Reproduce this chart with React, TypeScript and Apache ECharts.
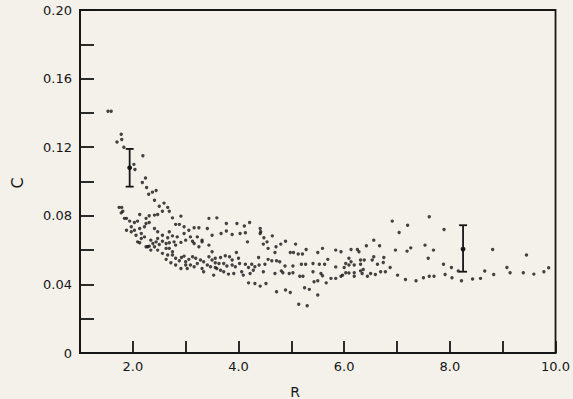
import React, { useEffect, useRef } from "react";
import * as echarts from "echarts";

// Axis settings (data units)
const xMin = 1;
const xMax = 10;
const xStep = 1;
const yMin = 0;
const yMax = 0.2;
const yStep = 0.02;

// Error bars: [R, centre C, low C, high C]
const errorBars: number[][] = [
  [1.94, 0.108, 0.097, 0.119],
  [8.25, 0.0606, 0.0474, 0.0745],
];

// Scatter points [R, C], grouped by region of the plot
const pointsSmallR: number[][] = [
  [1.53, 0.141], [1.59, 0.141],
  [1.70, 0.123], [1.78, 0.1275], [1.79, 0.1245], [1.83, 0.120],
  [2.19, 0.115], [2.02, 0.110], [2.04, 0.107],
  [2.18, 0.0994], [2.24, 0.102], [2.26, 0.0965],
  [2.37, 0.0938], [2.44, 0.0948], [2.30, 0.0926], [2.41, 0.0891],
  [2.50, 0.0856], [2.59, 0.0874], [2.66, 0.0849], [2.56, 0.0827], [2.69, 0.0827],
  [1.74, 0.0849], [1.79, 0.0849], [1.78, 0.0817], [1.81, 0.0827], [1.84, 0.0785],
  [2.91, 0.0798], [2.75, 0.0788],
  [2.47, 0.0808], [2.41, 0.0804], [2.31, 0.0800], [2.25, 0.0785], [2.13, 0.0808],
  [1.88, 0.0785], [1.94, 0.0769], [2.03, 0.0761], [2.09, 0.0769],
  [2.25, 0.0755], [2.31, 0.0761], [2.81, 0.0750], [2.88, 0.0750],
  [2.97, 0.0736], [3.06, 0.0716], [3.16, 0.0730], [3.25, 0.0730],
  [3.44, 0.0785], [3.59, 0.0788], [3.41, 0.0726], [3.50, 0.0687],
  [1.97, 0.0736], [2.03, 0.0716], [2.13, 0.0726], [2.22, 0.0736], [2.16, 0.0697], [2.06, 0.0687], [1.97, 0.0707],
  [2.41, 0.0726], [2.47, 0.0707], [2.56, 0.0687], [2.69, 0.0707], [2.75, 0.0683], [2.66, 0.0672], [2.47, 0.0668], [2.34, 0.0658], [2.22, 0.0677],
  [2.84, 0.0677], [2.97, 0.0697], [3.09, 0.0677], [3.0, 0.0658], [3.13, 0.0652], [3.22, 0.0677], [3.31, 0.0658], [3.16, 0.0639], [2.91, 0.0645],
  [1.88, 0.0716], [2.16, 0.0668], [2.09, 0.0648], [2.28, 0.0619],
];

const pointsLowerLeft: number[][] = [
  [2.13, 0.0643], [2.25, 0.0619], [2.31, 0.0623], [2.38, 0.0639], [2.44, 0.0648], [2.50, 0.0633], [2.56, 0.0652], [2.63, 0.0639], [2.69, 0.0643], [2.78, 0.0648], [2.81, 0.0629],
  [2.41, 0.0619], [2.34, 0.0600], [2.47, 0.0600], [2.56, 0.0581], [2.63, 0.0610], [2.69, 0.0610], [2.75, 0.0590], [2.66, 0.0571], [2.75, 0.0571], [2.81, 0.0552], [2.63, 0.0546], [2.72, 0.0526], [2.81, 0.0513], [2.91, 0.0493], [2.88, 0.0538], [2.92, 0.0557], [2.97, 0.0565], [3.0, 0.0532], [3.06, 0.0546], [3.13, 0.0561], [3.19, 0.0552], [3.09, 0.0513], [3.0, 0.0513], [3.03, 0.0493], [3.16, 0.0503], [3.22, 0.0522], [3.28, 0.0542], [3.34, 0.0532], [3.41, 0.0513], [3.31, 0.0493], [3.34, 0.0474], [3.44, 0.0561], [3.50, 0.0542], [3.56, 0.0526], [3.47, 0.0503], [3.59, 0.0493], [3.53, 0.0454], [3.25, 0.0619], [3.31, 0.0648], [3.44, 0.0629], [3.50, 0.0590],
];

const pointsMiddleUpper: number[][] = [
  [3.77, 0.0755], [3.97, 0.0755], [4.11, 0.0741], [4.21, 0.0761],
  [3.67, 0.0697], [3.77, 0.0711], [3.88, 0.0691], [4.03, 0.0697], [4.13, 0.0701],
  [4.41, 0.0726], [4.42, 0.0707], [4.41, 0.0697],
  [4.48, 0.0672], [4.64, 0.0683],
];

const pointsMiddle: number[][] = [
  [4.17, 0.0648], [4.47, 0.0635], [4.54, 0.0648], [4.56, 0.0610], [4.71, 0.0619], [4.80, 0.0635], [4.89, 0.0652], [5.08, 0.0635],
  [4.98, 0.0586], [5.04, 0.0586], [5.13, 0.0577], [5.21, 0.0577], [5.28, 0.0604], [5.50, 0.0586], [5.59, 0.0610], [4.69, 0.0586], [4.38, 0.0557],
  [3.96, 0.0586], [3.88, 0.0542], [4.0, 0.0552], [3.56, 0.0552], [3.66, 0.0557], [3.75, 0.0567], [3.83, 0.0561],
  [3.63, 0.0522], [3.72, 0.0522], [3.78, 0.0507], [3.88, 0.0513], [3.94, 0.0503], [4.02, 0.0522], [4.13, 0.0518], [4.19, 0.0499], [4.25, 0.0518], [4.31, 0.0503], [4.39, 0.0513], [4.50, 0.0518],
  [4.56, 0.0546], [4.63, 0.0538], [4.72, 0.0538], [4.78, 0.0532], [4.88, 0.0507], [5.03, 0.0507], [5.19, 0.0518], [5.27, 0.0518], [5.41, 0.0522], [5.53, 0.0518], [5.63, 0.0518],
  [3.56, 0.0499], [3.66, 0.0483], [3.72, 0.0474], [3.81, 0.0460], [3.91, 0.0464], [4.06, 0.0474], [4.09, 0.0454], [4.22, 0.0464], [4.28, 0.0483], [4.47, 0.0474],
  [4.69, 0.0464], [4.81, 0.0479], [4.84, 0.0468], [4.96, 0.0464], [5.03, 0.0468], [5.16, 0.0448], [5.22, 0.0448], [5.41, 0.0474], [5.56, 0.0464], [5.59, 0.0450],
  [5.43, 0.0415], [5.50, 0.0421], [5.66, 0.0409], [4.19, 0.0409], [4.31, 0.0405], [4.41, 0.0390], [4.52, 0.0405],
  [4.72, 0.0357], [4.89, 0.0367], [4.98, 0.0353], [5.25, 0.0380], [5.34, 0.0371], [5.50, 0.0338],
  [5.14, 0.0284], [5.30, 0.0276],
];

const pointsLargeR: number[][] = [
  [6.91, 0.0769], [7.20, 0.0745], [7.61, 0.0794], [7.04, 0.0703], [7.89, 0.0720], [8.81, 0.0604], [9.45, 0.0571],
  [6.97, 0.0600], [7.19, 0.0594], [7.26, 0.0613],
  [7.53, 0.0629], [7.69, 0.0600], [7.59, 0.0552],
  [7.88, 0.0517], [8.03, 0.0499], [8.16, 0.0478],
  [7.01, 0.0454], [7.16, 0.0429], [7.36, 0.0421], [7.50, 0.0439], [7.61, 0.0448], [7.70, 0.0448],
  [7.91, 0.0458], [8.04, 0.0439], [8.22, 0.0421], [8.43, 0.0431], [8.58, 0.0435], [8.66, 0.0478], [8.83, 0.0458], [9.08, 0.0499], [9.14, 0.0468], [9.39, 0.0468], [9.59, 0.0460], [9.78, 0.0474], [9.87, 0.0497],
  [5.84, 0.0600], [5.94, 0.0590],
  [6.13, 0.0604], [6.25, 0.0604], [6.42, 0.0625], [6.56, 0.0658], [6.67, 0.0625], [6.28, 0.0590], [6.09, 0.0552], [6.31, 0.0542], [6.53, 0.0542], [6.75, 0.0557],
  [5.69, 0.0546], [6.03, 0.0522], [6.19, 0.0513], [6.38, 0.0542], [6.63, 0.0518], [6.87, 0.0499],
  [5.84, 0.0502], [6.09, 0.0467], [6.31, 0.0479], [6.5, 0.0464], [6.69, 0.0474], [6.78, 0.0474],
  [5.75, 0.0435], [5.97, 0.0454], [6.19, 0.0448], [6.44, 0.0448],
  [6.13, 0.0532], [6.56, 0.0561], [6.74, 0.0528], [6.0, 0.0499], [6.09, 0.0513], [6.31, 0.0517], [6.36, 0.0487], [6.59, 0.0458],
  [5.84, 0.0435], [5.94, 0.0448], [6.03, 0.0468], [6.19, 0.0468], [6.34, 0.0464],
];

const allPoints = [
  ...pointsSmallR,
  ...pointsLowerLeft,
  ...pointsMiddleUpper,
  ...pointsMiddle,
  ...pointsLargeR,
];

const INK = "#161616";
const FONT = "DejaVu Sans";

export default function App() {
  const ref = useRef<HTMLDivElement>(null);

  useEffect(() => {
    if (!ref.current) return;
    const chart = echarts.init(ref.current, undefined, { renderer: "svg" });
    chart.setOption({
      animation: false,
      backgroundColor: "#f3f1ea",
      grid: {
        left: 80,
        right: 14,
        top: 10,
        bottom: 46,
        show: true,
        borderColor: INK,
        borderWidth: 1.8,
        backgroundColor: "transparent",
      },
      xAxis: {
        type: "value",
        min: xMin,
        max: xMax,
        interval: xStep,
        axisLine: { show: true, lineStyle: { color: INK, width: 1.8 } },
        axisTick: { show: true, inside: true, length: 12, lineStyle: { color: INK, width: 1.8 } },
        splitLine: { show: false },
        axisLabel: {
          color: INK,
          fontFamily: FONT,
          fontSize: 13,
          margin: 7,
          formatter: (v: number) => (Math.round(v) % 2 === 0 ? v.toFixed(1) : ""),
        },
      },
      yAxis: {
        type: "value",
        min: yMin,
        max: yMax,
        interval: yStep,
        axisLine: { show: true, lineStyle: { color: INK, width: 1.8 } },
        axisTick: { show: true, inside: true, length: 14, lineStyle: { color: INK, width: 1.8 } },
        splitLine: { show: false },
        axisLabel: {
          color: INK,
          fontFamily: FONT,
          fontSize: 13,
          margin: 8,
          formatter: (v: number) => {
            const k = Math.round(v * 100);
            if (k % 4 !== 0) return "";
            return k === 0 ? "0" : v.toFixed(2);
          },
        },
      },
      graphic: [
        {
          type: "text",
          x: 295,
          y: 392,
          style: {
            text: "R",
            fontFamily: FONT,
            fontSize: 14,
            fill: INK,
            align: "center",
            verticalAlign: "middle",
          },
        },
        {
          type: "text",
          x: 17,
          y: 183,
          rotation: Math.PI / 2,
          style: {
            text: "C",
            fontFamily: FONT,
            fontSize: 16,
            fill: INK,
            align: "center",
            verticalAlign: "middle",
          },
        },
      ],
      series: [
        {
          type: "scatter",
          data: allPoints,
          symbol: "circle",
          symbolSize: 3.4,
          itemStyle: { color: INK },
        },
        {
          type: "custom",
          data: errorBars,
          encode: { x: 0, y: 1 },
          renderItem: (_params: any, api: any) => {
            const x = api.value(0);
            const mid = api.coord([x, api.value(1)]);
            const lo = api.coord([x, api.value(2)]);
            const hi = api.coord([x, api.value(3)]);
            const hw = 4;
            const ls = { stroke: INK, lineWidth: 1.8 };
            return {
              type: "group",
              children: [
                { type: "line", shape: { x1: lo[0], y1: lo[1], x2: hi[0], y2: hi[1] }, style: ls },
                { type: "line", shape: { x1: lo[0] - hw, y1: lo[1], x2: lo[0] + hw, y2: lo[1] }, style: ls },
                { type: "line", shape: { x1: hi[0] - hw, y1: hi[1], x2: hi[0] + hw, y2: hi[1] }, style: ls },
                { type: "circle", shape: { cx: mid[0], cy: mid[1], r: 2.4 }, style: { fill: INK } },
              ],
            };
          },
        },
      ],
    });
    return () => chart.dispose();
  }, []);

  return (
    <div
      ref={ref}
      style={{ position: "fixed", left: 0, top: 0, width: 573, height: 399, background: "#f3f1ea" }}
    />
  );
}
